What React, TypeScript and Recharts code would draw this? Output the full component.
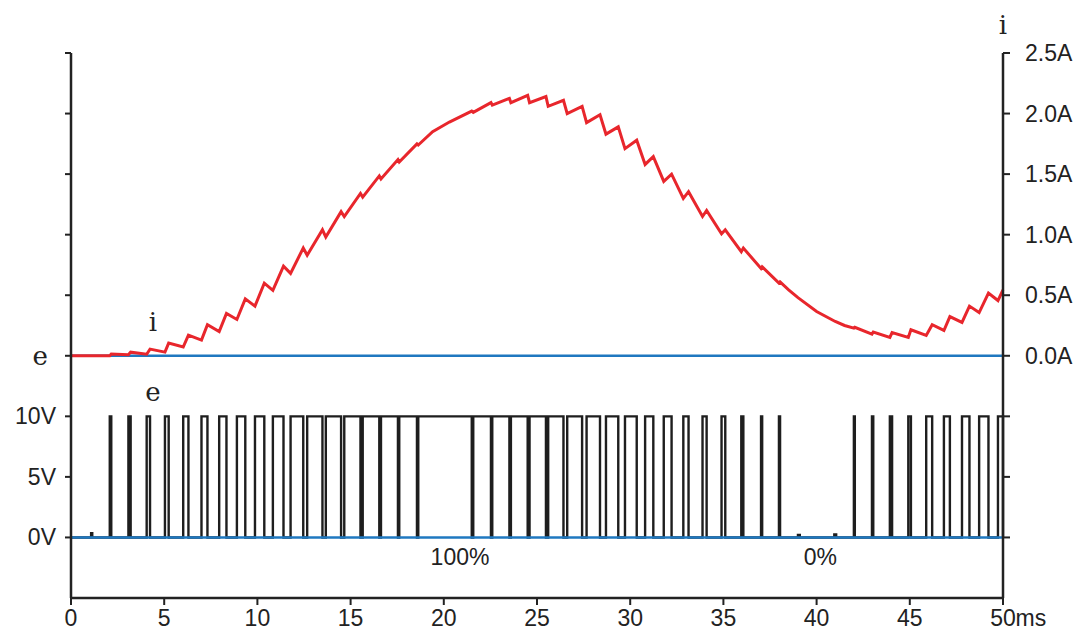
import React from "react";
import { ComposedChart, Line, XAxis, YAxis, ReferenceDot } from "recharts";

// PWM pulses: switch-on and switch-off times (ms)
const pulseOn = [
  2.08, 3.08, 4.06, 5.04, 6.02, 7.0, 7.95, 8.9, 9.87, 10.83, 11.78, 12.67, 13.67,
  14.66, 15.65, 16.63, 17.61, 18.63, 21.58, 22.6, 23.6, 24.6, 25.6, 26.62, 27.66,
  28.7, 29.72, 30.8, 31.8, 32.85, 33.88, 34.9, 35.96, 37.02, 37.98, 42.0, 42.97,
  43.93, 44.92, 45.88, 46.83, 47.8, 48.72, 49.73,
];
const pulseOff = [
  2.16, 3.2, 4.24, 5.24, 6.3, 7.32, 8.34, 9.35, 10.37, 11.4, 12.46, 13.49, 14.49,
  15.53, 16.54, 17.54, 18.56, 21.5, 22.53, 23.52, 24.5, 25.48, 26.42, 27.42, 28.38,
  29.36, 30.35, 31.24, 32.22, 33.13, 34.1, 35.1, 36.07, 37.08, 38.04, 42.05, 43.04,
  44.05, 45.06, 46.2, 47.15, 48.2, 49.22, 50,
];
const pulseVolts = 10;

// small glitches on the e trace: start, end, volts
const glitchOn = [1.08, 39.0, 40.95];
const glitchOff = [1.14, 39.1, 41.05];
const glitchVolts = [0.35, 0.2, 0.25];

// current (A) at each switch-on (trough) and switch-off (peak)
const ampAtOn = [
  0, 0.008, 0.013, 0.03, 0.072, 0.13, 0.2, 0.3, 0.41, 0.54, 0.68, 0.83, 0.98, 1.15,
  1.31, 1.46, 1.6, 1.74, 2.01, 2.07, 2.09, 2.09, 2.06, 2.0, 1.925, 1.83, 1.71, 1.58,
  1.44, 1.3, 1.15, 1.007, 0.86, 0.72, 0.6, 0.228, 0.179, 0.151, 0.151, 0.168, 0.209,
  0.275, 0.357, 0.456,
];
const ampAtOff = [
  0.014, 0.03, 0.055, 0.105, 0.17, 0.256, 0.35, 0.47, 0.6, 0.74, 0.89, 1.04, 1.19,
  1.34, 1.485, 1.62, 1.75, 2.02, 2.09, 2.125, 2.15, 2.14, 2.11, 2.06, 1.99, 1.89,
  1.78, 1.645, 1.5, 1.355, 1.2, 1.04, 0.89, 0.735, 0.61, 0.235, 0.196, 0.192, 0.215,
  0.256, 0.324, 0.41, 0.517, 0.545,
];

// current where the curve runs smooth (100% on, 0% off)
const smoothT = [0, 19.4, 20.3, 38.5, 39.0, 40.0, 41.0, 41.5];
const smoothAmp = [0, 1.85, 1.93, 0.545, 0.48, 0.366, 0.283, 0.25];

const timeTicks = [0, 5, 10, 15, 20, 25, 30, 35, 40, 45, 50];
const levelTicks = [1, 2, 3, 4, 5, 6, 7, 8, 9];
const leftLabels: Record<number, string> = { 1: "0V", 2: "5V", 3: "10V", 4: "e" };
const rightLabels: Record<number, string> = {
  4: "0.0A", 5: "0.5A", 6: "1.0A", 7: "1.5A", 8: "2.0A", 9: "2.5A",
};

// both traces share one vertical scale: 0V at level 1, 0A at level 4
const ampToLevel = (a: number) => 4 + a * 2;
const voltToLevel = (v: number) => 1 + v / 5;

const eSeries = (() => {
  const edges: { t: number; y: number }[] = [];
  pulseOn.forEach((t, k) => {
    edges.push({ t, y: voltToLevel(pulseVolts) });
    edges.push({ t: pulseOff[k], y: voltToLevel(0) });
  });
  glitchOn.forEach((t, k) => {
    edges.push({ t, y: voltToLevel(glitchVolts[k]) });
    edges.push({ t: glitchOff[k], y: voltToLevel(0) });
  });
  edges.sort((a, b) => a.t - b.t);
  return [{ t: 0, y: voltToLevel(0) }, ...edges];
})();

const iSeries = (() => {
  const pts: { t: number; y: number }[] = [];
  pulseOn.forEach((t, k) => {
    pts.push({ t, y: ampToLevel(ampAtOn[k]) });
    pts.push({ t: pulseOff[k], y: ampToLevel(ampAtOff[k]) });
  });
  smoothT.forEach((t, k) => pts.push({ t, y: ampToLevel(smoothAmp[k]) }));
  return pts.sort((a, b) => a.t - b.t);
})();

const zeroAmp = [{ t: 0, y: ampToLevel(0) }, { t: 50, y: ampToLevel(0) }];
const zeroVolt = [{ t: 0, y: voltToLevel(0) }, { t: 50, y: voltToLevel(0) }];

const INK = "#222";
const SANS = "'Liberation Sans', Arial, sans-serif";
const SERIF = "'DejaVu Serif', serif";

function LeftTick(props: any) {
  const { x, y, payload } = props;
  const label = leftLabels[payload.value];
  if (!label) return null;
  const serif = label === "e";
  return (
    <text
      x={serif ? x - 8 : x}
      y={y}
      dy="0.35em"
      textAnchor="end"
      fontSize={serif ? 26 : 23}
      fontFamily={serif ? SERIF : SANS}
      fill={INK}
    >
      {label}
    </text>
  );
}

function RightTick(props: any) {
  const { x, y, payload } = props;
  const label = rightLabels[payload.value];
  if (!label) return null;
  return (
    <text x={x} y={y} dy="0.35em" textAnchor="start" fontSize={23} fontFamily={SANS} fill={INK}>
      {label}
    </text>
  );
}

function TimeTick(props: any) {
  const { x, y, payload } = props;
  const v = payload.value;
  return (
    <g>
      <text x={x} y={y} dy="0.75em" textAnchor="middle" fontSize={23} fontFamily={SANS} fill={INK}>
        {v}
      </text>
      {v === 50 && (
        <text x={x + 12.5} y={y} dy="0.75em" textAnchor="start" fontSize={23} fontFamily={SANS} fill={INK}>
          ms
        </text>
      )}
    </g>
  );
}

const serifLabel = (value: string) => ({
  value,
  position: "center" as const,
  fontSize: 26,
  fontFamily: SERIF,
  fill: INK,
});
const sansLabel = (value: string) => ({
  value,
  position: "center" as const,
  fontSize: 23,
  fontFamily: SANS,
  fill: INK,
});

export default function App() {
  return (
    <div style={{ position: "absolute", left: 0, top: 0, width: 1090, height: 632, background: "#fff" }}>
      <ComposedChart width={1090} height={632} margin={{ top: 53, right: 7, bottom: 0, left: 11 }}>
        <XAxis
          dataKey="t"
          type="number"
          domain={[0, 50]}
          ticks={timeTicks}
          height={34}
          axisLine={{ stroke: INK, strokeWidth: 2.5 }}
          tickLine={{ stroke: INK, strokeWidth: 2 }}
          tickSize={7}
          tickMargin={4}
          tick={<TimeTick />}
        />
        <YAxis
          yAxisId="L"
          type="number"
          domain={[0, 9]}
          ticks={levelTicks}
          width={60}
          axisLine={{ stroke: INK, strokeWidth: 2.5 }}
          tickLine={{ stroke: INK, strokeWidth: 2 }}
          tickSize={6}
          tickMargin={9}
          tick={<LeftTick />}
        />
        <YAxis
          yAxisId="R"
          orientation="right"
          type="number"
          domain={[0, 9]}
          ticks={levelTicks}
          width={80}
          axisLine={{ stroke: INK, strokeWidth: 2.5 }}
          tickLine={{ stroke: INK, strokeWidth: 2 }}
          tickSize={7}
          tickMargin={15}
          tick={<RightTick />}
        />
        <Line
          yAxisId="L"
          data={eSeries}
          dataKey="y"
          type="stepAfter"
          stroke="#1e1e1e"
          strokeWidth={2.4}
          dot={false}
          isAnimationActive={false}
        />
        <Line
          yAxisId="L"
          data={zeroVolt}
          dataKey="y"
          stroke="#1f78c0"
          strokeWidth={2.5}
          dot={false}
          isAnimationActive={false}
        />
        <Line
          yAxisId="R"
          data={zeroAmp}
          dataKey="y"
          stroke="#1f78c0"
          strokeWidth={2.5}
          dot={false}
          isAnimationActive={false}
        />
        <Line
          yAxisId="R"
          data={iSeries}
          dataKey="y"
          type="linear"
          stroke="#e8262c"
          strokeWidth={3}
          dot={false}
          isAnimationActive={false}
        />
        <ReferenceDot yAxisId="L" x={4.4} y={4.56} r={0} stroke="none" label={serifLabel("i")} />
        <ReferenceDot yAxisId="L" x={4.4} y={3.4} r={0} stroke="none" label={serifLabel("e")} />
        <ReferenceDot yAxisId="L" x={50} y={9.46} r={0} stroke="none" ifOverflow="visible" label={serifLabel("i")} />
        <ReferenceDot yAxisId="L" x={20.87} y={0.68} r={0} stroke="none" label={sansLabel("100%")} />
        <ReferenceDot yAxisId="L" x={40.2} y={0.68} r={0} stroke="none" label={sansLabel("0%")} />
      </ComposedChart>
    </div>
  );
}
